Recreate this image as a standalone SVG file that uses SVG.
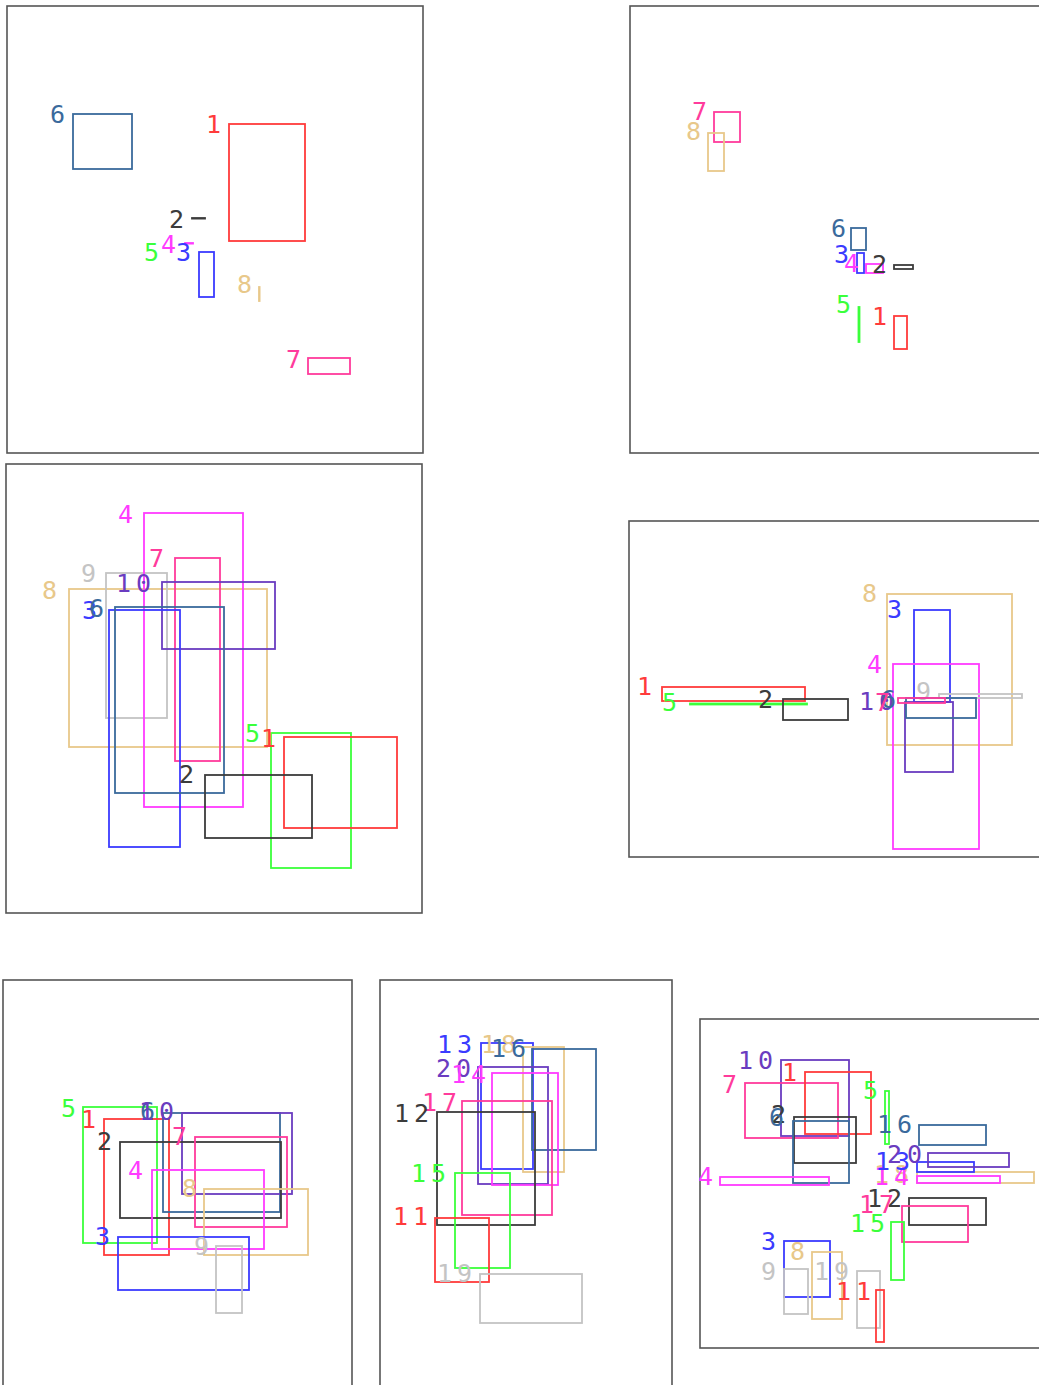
<svg xmlns="http://www.w3.org/2000/svg" width="1039" height="1385" viewBox="0 0 1039 1385">
<style>
.frame{fill:none;stroke:#555;stroke-width:1.6}
rect.n{fill:none;stroke-width:1.8}
text{font-family:"DejaVu Sans Mono","Liberation Mono",monospace;font-size:25px;letter-spacing:5px}
.c1{stroke:#ff3b3b}.c2{stroke:#3c3c3c}.c3{stroke:#3b3bff}.c4{stroke:#ff3bff}.c5{stroke:#3bff3b}
.c6{stroke:#3a6a9c}.c7{stroke:#ff3b9c}.c8{stroke:#e8c88a}.c9{stroke:#c4c4c4}.c10{stroke:#6a3cc0}
.t1{fill:#ff3b3b}.t2{fill:#3c3c3c}.t3{fill:#3b3bff}.t4{fill:#ff3bff}.t5{fill:#3bff3b}
.t6{fill:#3a6a9c}.t7{fill:#ff3b9c}.t8{fill:#e8c88a}.t9{fill:#c4c4c4}.t10{fill:#6a3cc0}
</style>
<rect width="1039" height="1385" fill="#fff"/>
<g id="frames">
<rect class="frame" x="7" y="6" width="416" height="447"/>
<rect class="frame" x="630" y="6" width="420" height="447"/>
<rect class="frame" x="6" y="464" width="416" height="449"/>
<rect class="frame" x="629" y="521" width="420" height="336"/>
<rect class="frame" x="3" y="980" width="349" height="420"/>
<rect class="frame" x="380" y="980" width="292" height="420"/>
<rect class="frame" x="700" y="1019" width="350" height="329"/>
</g>
<g id="connectors"></g>
<!-- Panel 1 -->
<g id="p1">
<g id="p1-n6"><rect class="n c6" x="73" y="114" width="59" height="55"/><text class="t6" x="50" y="123">6</text></g>
<g id="p1-n1"><rect class="n c1" x="229" y="124" width="76" height="117"/><text class="t1" x="206" y="133">1</text></g>
<g id="p1-n2"><rect class="n c2" x="192" y="218" width="13" height="0.6"/><text class="t2" x="169" y="228">2</text></g>
<g id="p1-n5"><text class="t5" x="144" y="261">5</text></g>
<g id="p1-n4"><rect class="n c4" x="185" y="243" width="8" height="0.6"/><text class="t4" x="161" y="253">4</text></g>
<g id="p1-n3"><rect class="n c3" x="199" y="252" width="15" height="45"/><text class="t3" x="176" y="261">3</text></g>
<g id="p1-n8"><rect class="n c8" x="259" y="287" width="0.6" height="14"/><text class="t8" x="237" y="293">8</text></g>
<g id="p1-n7"><rect class="n c7" x="308" y="358" width="42" height="16"/><text class="t7" x="286" y="368">7</text></g>
</g>
<!-- Panel 2 -->
<g id="p2">
<g id="p2-n7"><rect class="n c7" x="714" y="112" width="26" height="30"/><text class="t7" x="692" y="120">7</text></g>
<g id="p2-n8"><rect class="n c8" x="708" y="133" width="16" height="38"/><text class="t8" x="686" y="140">8</text></g>
<g id="p2-n6"><rect class="n c6" x="851" y="228" width="15" height="22"/><text class="t6" x="831" y="237">6</text></g>
<g id="p2-n3"><rect class="n c3" x="857" y="253" width="7" height="20"/><text class="t3" x="834" y="263">3</text></g>
<g id="p2-n4"><rect class="n c4" x="866" y="264" width="17" height="9"/><text class="t4" x="844" y="272">4</text></g>
<g id="p2-n2"><rect class="n c2" x="894" y="265" width="19" height="4"/><text class="t2" x="872" y="273">2</text></g>
<g id="p2-n5"><rect class="n c5" x="858.5" y="307" width="1" height="35"/><text class="t5" x="836" y="313">5</text></g>
<g id="p2-n1"><rect class="n c1" x="894" y="316" width="13" height="33"/><text class="t1" x="872" y="325">1</text></g>
</g>
<!-- Panel 3 -->
<g id="p3">
<g id="p3-n8"><rect class="n c8" x="69" y="589" width="198" height="158"/><text class="t8" x="42" y="599">8</text></g>
<g id="p3-n9"><rect class="n c9" x="106" y="573" width="61" height="145"/><text class="t9" x="81" y="582">9</text></g>
<g id="p3-n4"><rect class="n c4" x="144" y="513" width="99" height="294"/><text class="t4" x="118" y="523">4</text></g>
<g id="p3-n7"><rect class="n c7" x="175" y="558" width="45" height="203"/><text class="t7" x="149" y="567">7</text></g>
<g id="p3-n10"><rect class="n c10" x="162" y="582" width="113" height="67"/><text class="t10" x="116" y="592">10</text></g>
<g id="p3-n3"><rect class="n c3" x="109" y="610" width="71" height="237"/><text class="t3" x="82" y="619">3</text></g>
<g id="p3-n6"><rect class="n c6" x="115" y="607" width="109" height="186"/><text class="t6" x="89" y="617">6</text></g>
<g id="p3-n5"><rect class="n c5" x="271" y="733" width="80" height="135"/><text class="t5" x="245" y="742">5</text></g>
<g id="p3-n1"><rect class="n c1" x="284" y="737" width="113" height="91"/><text class="t1" x="261" y="747">1</text></g>
<g id="p3-n2"><rect class="n c2" x="205" y="775" width="107" height="63"/><text class="t2" x="179" y="783">2</text></g>
</g>
<!-- Panel 4 -->
<g id="p4">
<g id="p4-n8"><rect class="n c8" x="887" y="594" width="125" height="151"/><text class="t8" x="862" y="602">8</text></g>
<g id="p4-n3"><rect class="n c3" x="914" y="610" width="36" height="92"/><text class="t3" x="887" y="618">3</text></g>
<g id="p4-n4"><rect class="n c4" x="893" y="664" width="86" height="185"/><text class="t4" x="867" y="673">4</text></g>
<g id="p4-n1"><rect class="n c1" x="662" y="687" width="143" height="14"/><text class="t1" x="637" y="695">1</text></g>
<g id="p4-n5"><rect class="n c5" x="690" y="703.5" width="117" height="1"/><text class="t5" x="662" y="711">5</text></g>
<g id="p4-n2"><rect class="n c2" x="783" y="699" width="65" height="21"/><text class="t2" x="758" y="708">2</text></g>
<g id="p4-n10"><rect class="n c10" x="905" y="702" width="48" height="70"/><text class="t10" x="859" y="710">10</text></g>
<g id="p4-n9"><rect class="n c9" x="939" y="694" width="83" height="4"/><text class="t9" x="916" y="700">9</text></g>
<g id="p4-n6"><rect class="n c6" x="906" y="698" width="70" height="20"/><text class="t6" x="881" y="708">6</text></g>
<g id="p4-n7"><rect class="n c7" x="898" y="698" width="47" height="5"/><text class="t7" x="875" y="711">7</text></g>
</g>
<!-- Panel 5 -->
<g id="p5">
<g id="p5-n5"><rect class="n c5" x="83" y="1107" width="74" height="136"/><text class="t5" x="61" y="1117">5</text></g>
<g id="p5-n1"><rect class="n c1" x="104" y="1119" width="65" height="136"/><text class="t1" x="81" y="1128">1</text></g>
<g id="p5-n6"><rect class="n c6" x="163" y="1113" width="117" height="99"/><text class="t6" x="140" y="1120">6</text></g>
<g id="p5-n10"><rect class="n c10" x="182" y="1113" width="110" height="81"/><text class="t10" x="139" y="1120">10</text></g>
<g id="p5-n2"><rect class="n c2" x="120" y="1142" width="161" height="76"/><text class="t2" x="97" y="1150">2</text></g>
<g id="p5-n7"><rect class="n c7" x="195" y="1137" width="92" height="90"/><text class="t7" x="172" y="1145">7</text></g>
<g id="p5-n4"><rect class="n c4" x="152" y="1170" width="112" height="79"/><text class="t4" x="128" y="1179">4</text></g>
<g id="p5-n8"><rect class="n c8" x="204" y="1189" width="104" height="66"/><text class="t8" x="182" y="1197">8</text></g>
<g id="p5-n3"><rect class="n c3" x="118" y="1237" width="131" height="53"/><text class="t3" x="95" y="1245">3</text></g>
<g id="p5-n9"><rect class="n c9" x="216" y="1246" width="26" height="67"/><text class="t9" x="194" y="1255">9</text></g>
</g>
<!-- Panel 6 -->
<g id="p6">
<g id="p6-n13"><rect class="n c3" x="481" y="1043" width="52" height="126"/><text class="t3" x="437" y="1053">13</text></g>
<g id="p6-n18"><rect class="n c8" x="523" y="1047" width="41" height="125"/><text class="t8" x="481" y="1053">18</text></g>
<g id="p6-n16"><rect class="n c6" x="532" y="1049" width="64" height="101"/><text class="t6" x="491" y="1057">16</text></g>
<g id="p6-n20"><rect class="n c10" x="478" y="1067" width="70" height="117"/><text class="t10" x="436" y="1077">20</text></g>
<g id="p6-n14"><rect class="n c4" x="492" y="1073" width="66" height="112"/><text class="t4" x="451" y="1083">14</text></g>
<g id="p6-n17"><rect class="n c7" x="462" y="1101" width="90" height="114"/><text class="t7" x="422" y="1111">17</text></g>
<g id="p6-n12"><rect class="n c2" x="437" y="1112" width="98" height="113"/><text class="t2" x="394" y="1122">12</text></g>
<g id="p6-n15"><rect class="n c5" x="455" y="1173" width="55" height="95"/><text class="t5" x="411" y="1182">15</text></g>
<g id="p6-n11"><rect class="n c1" x="435" y="1218" width="54" height="64"/><text class="t1" x="393" y="1225">11</text></g>
<g id="p6-n19"><rect class="n c9" x="480" y="1274" width="102" height="49"/><text class="t9" x="437" y="1282">19</text></g>
</g>
<!-- Panel 7 -->
<g id="p7">
<g id="p7-n10"><rect class="n c10" x="781" y="1060" width="68" height="76"/><text class="t10" x="738" y="1069">10</text></g>
<g id="p7-n7"><rect class="n c7" x="745" y="1083" width="93" height="55"/><text class="t7" x="722" y="1093">7</text></g>
<g id="p7-n1"><rect class="n c1" x="805" y="1072" width="66" height="62"/><text class="t1" x="782" y="1081">1</text></g>
<g id="p7-n5"><rect class="n c5" x="885" y="1091" width="4" height="53"/><text class="t5" x="863" y="1099">5</text></g>
<g id="p7-n2"><rect class="n c2" x="794" y="1117" width="62" height="46"/><text class="t2" x="771" y="1123">2</text></g>
<g id="p7-n6"><rect class="n c6" x="793" y="1121" width="56" height="62"/><text class="t6" x="769" y="1126">6</text></g>
<g id="p7-n16"><rect class="n c6" x="919" y="1125" width="67" height="20"/><text class="t6" x="877" y="1133">16</text></g>
<g id="p7-n4"><rect class="n c4" x="720" y="1177" width="109" height="8"/><text class="t4" x="698" y="1185">4</text></g>
<g id="p7-n18"><rect class="n c8" x="917" y="1172" width="117" height="11"/><text class="t8" x="874" y="1183">18</text></g>
<g id="p7-n14"><rect class="n c4" x="917" y="1176" width="83" height="7"/><text class="t4" x="874" y="1185">14</text></g>
<g id="p7-n13"><rect class="n c3" x="917" y="1162" width="57" height="10"/><text class="t3" x="875" y="1170">13</text></g>
<g id="p7-n20"><rect class="n c10" x="928" y="1153" width="81" height="14"/><text class="t10" x="887" y="1163">20</text></g>
<g id="p7-n12"><rect class="n c2" x="909" y="1198" width="77" height="27"/><text class="t2" x="867" y="1207">12</text></g>
<g id="p7-n17"><rect class="n c7" x="902" y="1206" width="66" height="36"/><text class="t7" x="859" y="1213">17</text></g>
<g id="p7-n15"><rect class="n c5" x="891" y="1222" width="13" height="58"/><text class="t5" x="850" y="1232">15</text></g>
<g id="p7-n3"><rect class="n c3" x="784" y="1241" width="46" height="56"/><text class="t3" x="761" y="1250">3</text></g>
<g id="p7-n8"><rect class="n c8" x="812" y="1252" width="30" height="67"/><text class="t8" x="790" y="1260">8</text></g>
<g id="p7-n9"><rect class="n c9" x="784" y="1269" width="24" height="45"/><text class="t9" x="761" y="1280">9</text></g>
<g id="p7-n19"><rect class="n c9" x="857" y="1271" width="23" height="57"/><text class="t9" x="814" y="1280">19</text></g>
<g id="p7-n11"><rect class="n c1" x="876" y="1290" width="8" height="52"/><text class="t1" x="836" y="1300">11</text></g>
</g>
</svg>
